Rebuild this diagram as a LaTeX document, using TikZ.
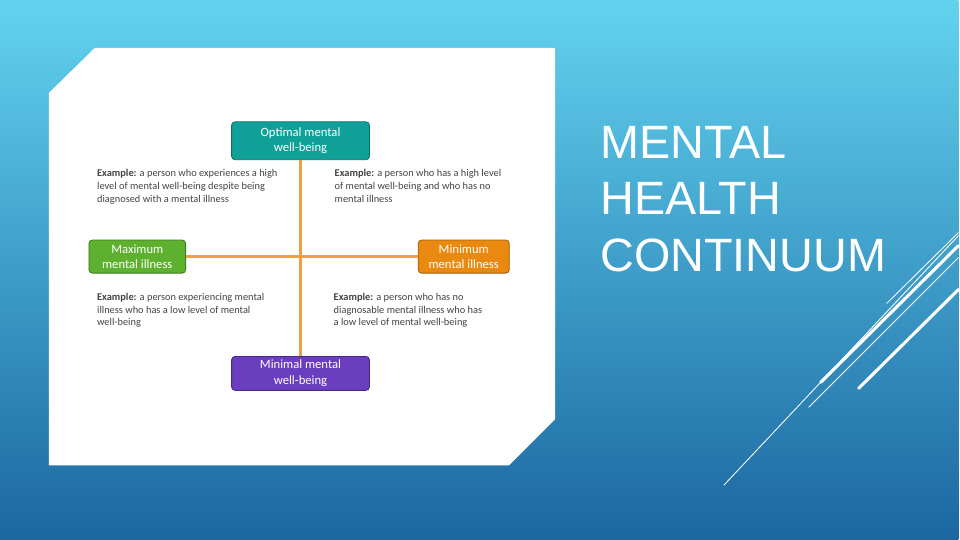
\documentclass[tikz,border=0pt]{standalone}
\usepackage{fontspec}
\setmainfont{Carlito}
\newfontfamily\titlefont{Liberation Sans}
\usetikzlibrary{positioning}
\definecolor{SkyTop}{HTML}{62D3EF}
\definecolor{SkyBottom}{HTML}{1B67A1}
\definecolor{Teal}{HTML}{0FA198}
\definecolor{TealEdge}{HTML}{0B6F69}
\definecolor{Leaf}{HTML}{5DB12F}
\definecolor{LeafEdge}{HTML}{3E7A1E}
\definecolor{Amber}{HTML}{E9890F}
\definecolor{AmberEdge}{HTML}{A35F08}
\definecolor{Violet}{HTML}{6A3EBF}
\definecolor{VioletEdge}{HTML}{472886}
\definecolor{Axis}{HTML}{F0A043}
\definecolor{Ink}{HTML}{444444}

\begin{document}
\begin{tikzpicture}[x=0.025cm,y=-0.025cm,statebox/.style={rounded corners=2.5pt, line width=0.6pt, text=white, align=center, inner sep=0pt, font=\fontsize{9}{11}\selectfont},axisline/.style={draw=Axis, line width=2.2pt},example/.style={text=Ink, align=left, inner sep=0pt, anchor=north west, font=\fontsize{7.4}{9.2}\selectfont},streak/.style={draw=white, line width=2.2pt, line cap=round},hairline/.style={draw=white, line width=0.6pt}]
\shade[top color=SkyTop, bottom color=SkyBottom] (0,0) rectangle (960,540);
\fill[white] (95,48) -- (556,48) -- (556,420) -- (510,466) -- (49,466) -- (49,93) -- cycle;
% quadrant boxes
\node[statebox, fill=Teal, draw=TealEdge, minimum width=3.45cm, minimum height=0.95cm] (optimal) at (301,141) {Optimal mental\\well-being};
\node[statebox, fill=Violet, draw=VioletEdge, minimum width=3.45cm, minimum height=0.85cm] (minimal) at (301,374) {Minimal mental\\well-being};
\node[statebox, fill=Leaf, draw=LeafEdge, minimum width=2.42cm, minimum height=0.83cm] (maxill) at (137.5,257) {Maximum\\mental illness};
\node[statebox, fill=Amber, draw=AmberEdge, minimum width=2.28cm, minimum height=0.83cm] (minill) at (464.5,257) {Minimum\\mental illness};
\draw[axisline] (optimal) -- (minimal);
\draw[axisline] (maxill) -- (minill);
% examples
\node[example] (extl) at (97,169) {\textbf{Example:} a person who experiences a high\\level of mental well-being despite being\\diagnosed with a mental illness};
\node[example] (extr) at (335,169) {\textbf{Example:} a person who has a high level\\of mental well-being and who has no\\mental illness};
\node[example] (exbl) at (97,293) {\textbf{Example:} a person experiencing mental\\illness who has a low level of mental\\well-being};
\node[example] (exbr) at (334,293) {\textbf{Example:} a person who has no\\diagnosable mental illness who has\\a low level of mental well-being};
% title
\node[text=white, align=left, inner sep=0pt, anchor=north west, font=\titlefont\fontsize{33.3}{40.4}\selectfont] (title) at (601,126) {MENTAL\\HEALTH\\CONTINUUM};
% streaks
\draw[hairline] (888,304) -- (960,233);
\draw[streak] (822,383) -- (960,246);
\draw[hairline] (810,408) -- (960,258);
\draw[hairline] (725,486) -- (960,236);
\draw[streak] (860,389) -- (960,290);
\end{tikzpicture}
\end{document}
